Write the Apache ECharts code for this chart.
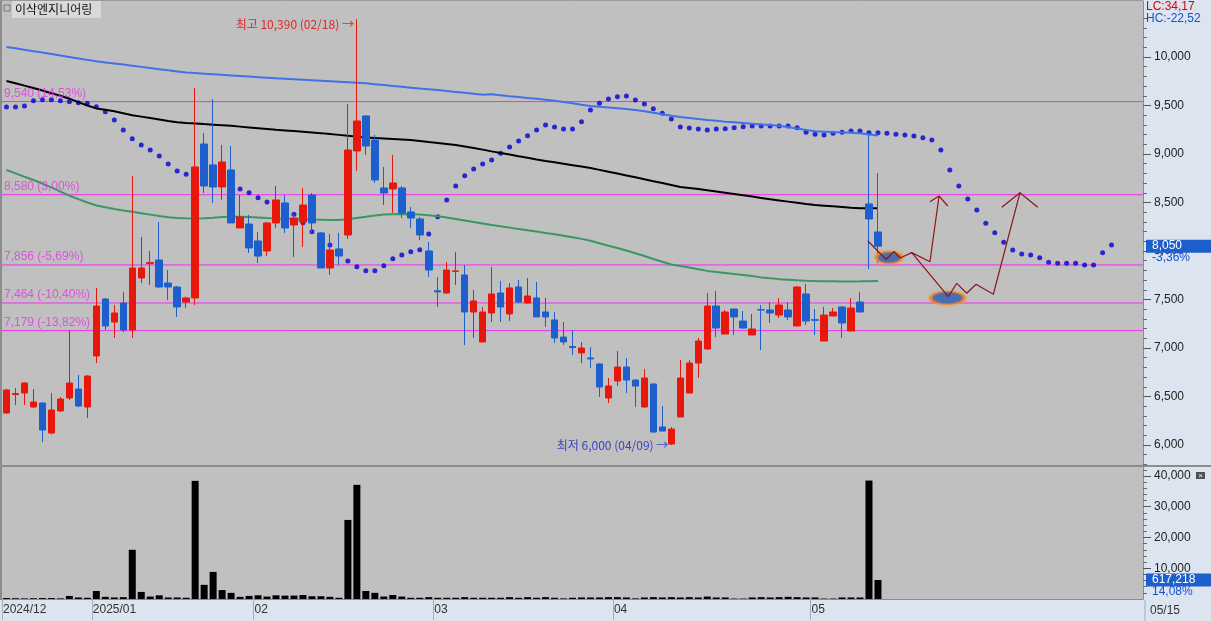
<!DOCTYPE html>
<html><head><meta charset="utf-8">
<script src="https://cdn.jsdelivr.net/npm/echarts@6/dist/echarts.min.js"></script>
<style>html,body{margin:0;padding:0;background:#c0c0c0;overflow:hidden}#c{width:1211px;height:621px}</style>
</head><body><div id="c"></div>
<script>
const stockName = '이삭엔지니어링';
const categories = [
 '12/16','12/17','12/18','12/19','12/20','12/23','12/24','12/26','12/27','12/30',
 '01/02','01/03','01/06','01/07','01/08','01/09','01/10','01/13','01/14','01/15','01/16','01/17','01/20','01/21','01/22','01/23','01/24','01/31',
 '02/03','02/04','02/05','02/06','02/07','02/10','02/11','02/12','02/13','02/14','02/17','02/18','02/19','02/20','02/21','02/24','02/25','02/26','02/27','02/28',
 '03/04','03/05','03/06','03/07','03/10','03/11','03/12','03/13','03/14','03/17','03/18','03/19','03/20','03/21','03/24','03/25','03/26','03/27','03/28','03/31',
 '04/01','04/02','04/03','04/04','04/07','04/08','04/09','04/10','04/11','04/14','04/15','04/16','04/17','04/18','04/21','04/22','04/23','04/24','04/25','04/28','04/29','04/30',
 '05/02','05/07','05/08','05/09','05/12','05/13','05/14','05/15'
];
const futureSlots = 29;
const monthLabels = ['2024/12','2025/01','02','03','04','05'];

const opens  = [6330,6520,6536,6392,6433,6124,6351,6485,6577,6392, 6918,7505,7268,7464,7186,7722,7870,7907,7670,7629, 7474,7516,9103,8887,8660,8835,8237,8278,8103,8000, 8289,8495,8268,8299,8577,8186,7825,8021,8165,9031, 9392,9144,8650,8639,8650,8402,8330,8000,7590,7567, 7790,7753,7371,7062,7361,7567,7351,7629,7464,7516, 7371,7289,7113,7015,6949,6897,6835,6485,6660,6804, 6670,6392,6629,6186,6010,6289,6536,6845,6990,7433, 7144,7402,7278,7134,7395,7392,7340,7392,7227,7557, 7292,7072,7330,7423,7175,7474,8485,8196];
const closes = [6567,6530,6639,6443,6155,6361,6474,6639,6402,6711, 7433,7227,7361,7186,7825,7825,7880,7629,7629,7423, 7516,8866,8670,8660,8918,8289,8351,8031,7948,8289, 8526,8237,8340,8474,8289,7825,8010,7948,9041,9340, 9082,8732,8598,8701,8392,8340,8165,7804,7578,7804, 7795,7371,7485,7371,7557,7423,7619,7474,7536,7320, 7320,7103,7062,7005,7000,6887,6598,6608,6804,6670, 6608,6691,6134,6144,6165,6691,6845,7072,7433,7206, 7371,7320,7206,7196,7392,7361,7443,7320,7629,7278, 7286,7340,7371,7258,7412,7371,8330,8050];
const lows   = [6320,6412,6412,6380,6030,6110,6340,6464,6392,6278, 6845,7186,7103,7165,7103,7670,7650,7619,7495,7320, 7412,7443,8598,8495,8526,8289,8237,7979,7876,7948, 8237,8186,7938,8041,8186,7825,7753,7856,8124,8825, 8990,8701,8474,8392,8340,8237,8113,7732,7423,7560, 7650,7031,7103,7062,7268,7268,7278,7464,7460,7320, 7217,7052,7031,6928,6845,6794,6495,6433,6608,6536, 6392,6381,6124,6144,6000,6289,6536,6691,6979,7113, 7144,7134,7200,7134,6979,7258,7309,7289,7227,7237, 7134,7072,7330,7103,7175,7371,7814,7876];
const highs  = [6580,6588,6650,6577,6440,6536,6495,7186,6722,6722, 7619,7516,7443,7577,8773,8144,8000,8299,7804,7640, 7530,9680,9216,9567,9093,9082,8577,8371,8196,8299, 8670,8577,8392,8650,8598,8196,8175,8186,9515,10390, 9400,9196,8866,8990,8670,8454,8351,8093,7732,7887, 7990,7856,7598,7423,7835,7691,7670,7701,7722,7680, 7516,7371,7268,7186,7062,7010,6840,6691,6969,6897, 6675,6784,6635,6402,6186,6876,6876,7103,7567,7588, 7392,7405,7381,7351,7443,7474,7516,7474,7640,7660, 7402,7423,7412,7430,7516,7577,9196,8804];

const volumes = [300,250,200,250,300,300,200,1000,500,400, 2600,700,500,600,16000,2300,800,1200,500,500, 400,38400,4600,8800,2900,2000,700,1000,1200,800, 1200,1100,1100,1300,900,900,700,400,25700,37100, 2600,2000,800,1300,800,400,400,600,400,400, 400,600,400,400,400,400,600,400,600,400, 600,400,200,400,500,500,500,600,600,500, 200,500,600,500,600,500,600,500,800,500, 500,150,150,500,600,500,600,700,600,500, 500,150,150,500,500,500,38500,6172];
const volumeTagText = '617,218';
const volumeTagPct = '14,08%';

const maLong = [10103,10090,10075,10060,10045,10030,10015,10000,9985,9970, 9955,9944,9933,9922,9910,9898,9886,9874,9862,9851, 9840,9834,9828,9822,9816,9810,9804,9798,9792,9786, 9780,9775,9770,9765,9760,9755,9750,9745,9740,9735, 9728,9720,9711,9702,9693,9684,9675,9667,9659,9650, 9640,9630,9620,9610,9615,9605,9595,9587,9578,9570, 9560,9548,9535,9522,9508,9495,9487,9479,9471,9463, 9454,9440,9425,9410,9395,9381,9371,9361,9351,9342, 9333,9326,9319,9312,9305,9299,9290,9276,9262,9248, 9234,9230,9226,9222,9218,9214,9200,9190];
const maMid = [9753,9730,9705,9680,9655,9626,9600,9570,9535,9500, 9470,9455,9440,9420,9400,9385,9370,9355,9340,9328, 9320,9315,9308,9302,9296,9290,9282,9274,9266,9258, 9250,9243,9236,9229,9222,9215,9206,9197,9188,9179, 9170,9165,9160,9155,9150,9145,9135,9124,9114,9104, 9093,9078,9062,9045,9027,9010,8994,8977,8961,8944, 8928,8914,8900,8885,8870,8855,8836,8817,8798,8779, 8760,8740,8720,8700,8680,8660,8650,8638,8625,8613, 8601,8588,8574,8561,8547,8533,8521,8509,8497,8485, 8474,8467,8460,8453,8446,8440,8440,8440];
const maShort = [8835,8800,8765,8732,8695,8655,8612,8570,8535,8500, 8470,8450,8432,8418,8405,8390,8375,8360,8348,8340, 8337,8336,8337,8342,8350,8354,8354,8350,8346,8340, 8336,8333,8330,8327,8324,8322,8320,8320,8328,8340, 8352,8365,8375,8380,8381,8378,8375,8368,8358,8345, 8330,8315,8300,8284,8268,8255,8241,8227,8213,8200, 8186,8172,8157,8141,8125,8105,8080,8055,8030,8005, 7977,7948,7918,7889,7860,7845,7830,7812,7795,7784, 7773,7762,7752,7742,7728,7718,7710,7704,7698,7693, 7690,7688,7687,7686,7686,7687,7689,7691];
const dotLine = [9485,9485,9495,9550,9560,9560,9550,9539,9529,9523, 9488,9436,9351,9247,9158,9093,9041,8979,8897,8825, 8791,8763,8732,8711,8691,8670,8639,8601,8550,8505, 8464,8423,8378,8292,8199,8134,8062,7990,7897,7838, 7797,7797,7848,7921,7959,7993,8013,8175,8354,8526, 8670,8776,8845,8897,8938,9007,9072,9134,9189,9247, 9299,9278,9258,9258,9333,9454,9523,9567,9591,9598, 9557,9515,9467,9420,9361,9278,9268,9258,9247,9258, 9261,9271,9281,9289,9289,9289,9289,9289,9271,9224, 9203,9196,9213,9224,9237,9237,9220,9220,9213,9203, 9196,9186,9168,9144,9041,8835,8670,8536,8423,8286, 8189,8090,8010,7969,7959,7931,7884,7873,7873,7873, 7856,7856,7983,8062];

const levelLines = [9540, 8580, 7856, 7464, 7179];
const priceTicks = [6000,6500,7000,7500,8000,8500,9000,9500,10000];
const volumeTicks = [10000,20000,30000,40000];
const infoLC = 'LC:34,17';
const infoHC = 'HC:-22,52';

// hand-drawn scenario paths: [slot index, price]
const sketchPathA = [[95.86,8106],[97.90,7912],[98.79,7995],[99.46,7928],[100.76,7983],[102.79,7890],[103.80,8567]];
const sketchArrowA = [[102.79,8508],[103.80,8567],[104.77,8464]];
const sketchPathB = [[100.76,7983],[104.83,7529],[105.77,7667],[106.88,7564],[107.92,7657],[109.84,7554],[112.81,8601]];
const sketchArrowB = [[110.78,8451],[112.81,8601],[114.78,8451]];
const sketchTargets = [[98.23,7933],[104.74,7516]];
</script>
<script>
const nReal = categories.length;
const allCats = categories.concat(Array.from({length: futureSlots}, () => ''));
const nAll = allCats.length;
const fmt = v => Math.round(v).toLocaleString('en-US');
const pctTxt = p => p.toFixed(2).replace('.', ',') + '%';
const refPrice = closes[nReal - 2];
const lastClose = closes[nReal - 1];
const lastVol = volumes[nReal - 1];

const candleData = opens.map((o, i) => [o, closes[i], lows[i], highs[i]]);
let hiIdx = 0, loIdx = 0;
highs.forEach((h, i) => { if (h > highs[hiIdx]) hiIdx = i; });
lows.forEach((l, i) => { if (l < lows[loIdx]) loIdx = i; });

const monthStarts = [];
categories.forEach((c, i) => { if (i === 0 || c.slice(0,2) !== categories[i-1].slice(0,2)) monthStarts.push(i); });
const monthPos = monthStarts.map(i => i - 0.5);

const minorPrice = []; for (let v = 5800; v <= 10500; v += 100) if (v % 500) minorPrice.push(v);
const minorVol = []; for (let v = 2000; v <= 42000; v += 2000) if (v % 10000) minorVol.push(v);

const UP = '#e8170c', DOWN = '#1d5fcc', LEVEL = '#f22cf2';
const numFont = "'Liberation Sans', Arial, sans-serif";
const krFont = "'Noto Sans CJK KR', sans-serif";

const chart = echarts.init(document.getElementById('c'), null, {renderer: 'canvas'});
const W = 1211, H = 621, L = 2, R = 68, xA = W - R;
const xFull = [-0.5, nAll - 0.5];

const mainY = (grid, min, max, ticks) => ({type: 'value', gridIndex: grid, min, max, position: 'right',
  axisLine: {show: true, onZero: false, lineStyle: {color: '#8c8c8c'}},
  splitLine: {show: false},
  axisTick: {show: true, customValues: ticks, length: 8, lineStyle: {color: '#555'}},
  axisLabel: {show: true, customValues: ticks, margin: 11, color: '#222', fontSize: 12, fontFamily: numFont, formatter: v => fmt(v)}});
const minorY = (grid, min, max, ticks) => ({type: 'value', gridIndex: grid, min, max, position: 'right',
  axisLine: {show: false, onZero: false}, splitLine: {show: false}, axisLabel: {show: false},
  axisTick: {show: true, customValues: ticks, length: 4, lineStyle: {color: '#666'}}});

const option = {
  animation: false,
  backgroundColor: '#c0c0c0',
  grid: [
    {left: L, right: R, top: 1, height: 464},
    {left: L, right: R, top: 467, height: 132}
  ],
  xAxis: [
    {type: 'category', gridIndex: 0, data: allCats, boundaryGap: true, show: false},
    {type: 'category', gridIndex: 1, data: allCats, boundaryGap: true, show: false},
    {type: 'value', gridIndex: 0, min: xFull[0], max: xFull[1], show: false, splitLine: {show: false}, axisLine: {onZero: false}},
    {type: 'value', gridIndex: 1, min: xFull[0], max: xFull[1], position: 'bottom',
      axisLine: {show: true, onZero: false, lineStyle: {color: '#8c8c8c', width: 1}},
      splitLine: {show: false},
      axisTick: {show: true, customValues: monthPos, length: 21, lineStyle: {color: '#a3adbb'}},
      axisLabel: {show: true, customValues: monthPos, showMinLabel: true, showMaxLabel: true,
        align: 'left', margin: 5, padding: [0,0,0,1], color: '#333', fontSize: 12, fontFamily: numFont,
        formatter: v => { const k = monthPos.findIndex(p => Math.abs(p - v) < 1e-6); return k >= 0 ? monthLabels[k] : ''; }}
    }
  ],
  yAxis: [
    mainY(0, 5794, 10577, priceTicks),
    minorY(0, 5794, 10577, minorPrice),
    mainY(1, 0, 42900, volumeTicks),
    minorY(1, 0, 42900, minorVol)
  ],
  series: [
    ...levelLines.map(v => ({type: 'line', xAxisIndex: 2, yAxisIndex: 0, data: [[xFull[0], v], [xFull[1], v]],
      symbol: 'none', silent: true, z: 1, lineStyle: {color: LEVEL, width: 1}})),
    {type: 'scatter', xAxisIndex: 2, yAxisIndex: 0, symbolSize: 0, silent: true, z: 8,
      data: levelLines.map(v => [xFull[0], v]),
      label: {show: true, position: 'right', distance: 2, offset: [0, -8], color: '#e03ae0', fontSize: 12, fontFamily: numFont,
        formatter: p => fmt(p.value[1]) + ' (' + pctTxt((p.value[1] / refPrice - 1) * 100) + ')'}},
    {type: 'scatter', name: 'dots', xAxisIndex: 0, yAxisIndex: 0, data: dotLine, symbolSize: 5, z: 1,
      itemStyle: {color: '#0000d4'}, silent: true},
    {type: 'line', name: 'maLong', xAxisIndex: 0, yAxisIndex: 0, data: maLong, showSymbol: false, symbol: 'none', z: 2,
      lineStyle: {color: '#4270e6', width: 2}},
    {type: 'line', name: 'maMid', xAxisIndex: 0, yAxisIndex: 0, data: maMid, showSymbol: false, symbol: 'none', z: 2,
      lineStyle: {color: '#000000', width: 2}},
    {type: 'line', name: 'maShort', xAxisIndex: 0, yAxisIndex: 0, data: maShort, showSymbol: false, symbol: 'none', z: 2,
      lineStyle: {color: '#3a9764', width: 2}},
    {type: 'candlestick', xAxisIndex: 0, yAxisIndex: 0, data: candleData, barWidth: 7, z: 3,
      itemStyle: {color: UP, color0: DOWN, borderColor: UP, borderColor0: DOWN, borderWidth: 1}},
    {type: 'scatter', xAxisIndex: 0, yAxisIndex: 0, symbolSize: 0, z: 5, silent: true,
      data: [[hiIdx, highs[hiIdx]]],
      label: {show: true, position: 'left', distance: 3, offset: [0, 5], color: '#e00000', fontSize: 12, fontFamily: krFont,
        formatter: () => '최고 ' + fmt(highs[hiIdx]) + ' (' + categories[hiIdx] + ') →'}},
    {type: 'scatter', xAxisIndex: 0, yAxisIndex: 0, symbolSize: 0, z: 5, silent: true,
      data: [[loIdx, lows[loIdx]]],
      label: {show: true, position: 'left', distance: 3, offset: [0, 0], color: '#1a22d0', fontSize: 12, fontFamily: krFont,
        formatter: () => '최저 ' + fmt(lows[loIdx]) + ' (' + categories[loIdx] + ') →'}},
    {type: 'scatter', xAxisIndex: 2, yAxisIndex: 0, data: sketchTargets, z: 6, silent: true,
      symbol: 'circle', symbolSize: (v, p) => p.dataIndex === 0 ? [26, 12] : [34, 13],
      itemStyle: {color: '#1f5fc8', borderColor: '#ff8a1c', borderWidth: 2, shadowColor: 'rgba(255,140,40,0.7)', shadowBlur: 3}},
    ...[sketchPathA, sketchArrowA, sketchPathB, sketchArrowB].map(d => ({
      type: 'line', xAxisIndex: 2, yAxisIndex: 0, data: d, symbol: 'none', z: 7, silent: true,
      lineStyle: {color: '#8a1818', width: 1.2}})),
    {type: 'bar', xAxisIndex: 1, yAxisIndex: 2, data: volumes, barWidth: 7, z: 3,
      itemStyle: {color: '#000000'}}
  ]
};
chart.setOption(option);

const yTag = chart.convertToPixel({yAxisIndex: 0}, lastClose);
const yVol = chart.convertToPixel({yAxisIndex: 2}, lastVol);
chart.setOption({
  graphic: [
    {type: 'rect', z: -5, silent: true, shape: {x: xA, y: 0, width: R, height: H}, style: {fill: '#dce4ef'}},
    {type: 'rect', z: -5, silent: true, shape: {x: 0, y: 600, width: xA, height: 21}, style: {fill: '#dce4ef'}},
    {type: 'line', z: 50, silent: true, shape: {x1: 0, y1: 466, x2: W, y2: 466}, style: {stroke: '#8c8c8c', lineWidth: 2}},
    {type: 'line', z: 50, silent: true, shape: {x1: 1, y1: 0, x2: 1, y2: 600}, style: {stroke: '#8c8c8c', lineWidth: 2}},
    {type: 'line', z: 50, silent: true, shape: {x1: 0, y1: 0.5, x2: xA, y2: 0.5}, style: {stroke: '#9a9a9a', lineWidth: 1}},
    {type: 'rect', z: 50, silent: true, shape: {x: 12, y: 1, width: 89, height: 17}, style: {fill: '#d9d9d9'}},
    {type: 'rect', z: 51, silent: true, shape: {x: 4, y: 5, width: 6, height: 6}, style: {fill: 'none', stroke: '#777', lineWidth: 1}},
    {type: 'text', z: 51, silent: true, style: {x: 15, y: 9.5, text: stockName, fill: '#111', font: '12px ' + krFont, verticalAlign: 'middle'}},
    {type: 'text', z: 51, silent: true, style: {x: 1146, y: 7, text: infoLC, fill: '#e00000', font: '12px ' + numFont, verticalAlign: 'middle'}},
    {type: 'text', z: 51, silent: true, style: {x: 1146, y: 19, text: infoHC, fill: '#1a4fd0', font: '12px ' + numFont, verticalAlign: 'middle'}},
    {type: 'rect', z: 52, silent: true, shape: {x: 1146, y: yTag - 6.5, width: 65, height: 13}, style: {fill: '#1d5fcc'}},
    {type: 'text', z: 53, silent: true, style: {x: 1152, y: yTag, text: fmt(lastClose), fill: '#ffffff', font: '12px ' + numFont, verticalAlign: 'middle'}},
    {type: 'text', z: 53, silent: true, style: {x: 1152, y: yTag + 12, text: pctTxt((lastClose / refPrice - 1) * 100), fill: '#1a4fd0', font: '12px ' + numFont, verticalAlign: 'middle'}},
    {type: 'rect', z: 52, silent: true, shape: {x: 1146, y: yVol - 6.5, width: 65, height: 13}, style: {fill: '#1d5fcc'}},
    {type: 'text', z: 53, silent: true, style: {x: 1152, y: yVol, text: volumeTagText, fill: '#ffffff', font: '12px ' + numFont, verticalAlign: 'middle'}},
    {type: 'text', z: 53, silent: true, style: {x: 1152, y: yVol + 12, text: volumeTagPct, fill: '#1a4fd0', font: '12px ' + numFont, verticalAlign: 'middle'}},
    {type: 'rect', z: 53, silent: true, shape: {x: 1196, y: 472, width: 9, height: 7}, style: {fill: '#505050'}},
    {type: 'text', z: 54, silent: true, style: {x: 1200.5, y: 475.5, text: '×', fill: '#fff', font: '8px ' + numFont, align: 'center', verticalAlign: 'middle'}},
    {type: 'line', z: 50, silent: true, shape: {x1: xA + 2, y1: 600, x2: xA + 2, y2: H}, style: {stroke: '#a3adbb', lineWidth: 1}},
    {type: 'text', z: 51, silent: true, style: {x: xA + 7, y: 611, text: categories[nReal - 1], fill: '#333', font: '12px ' + numFont, verticalAlign: 'middle'}}
  ]
});
</script>
</body></html>
